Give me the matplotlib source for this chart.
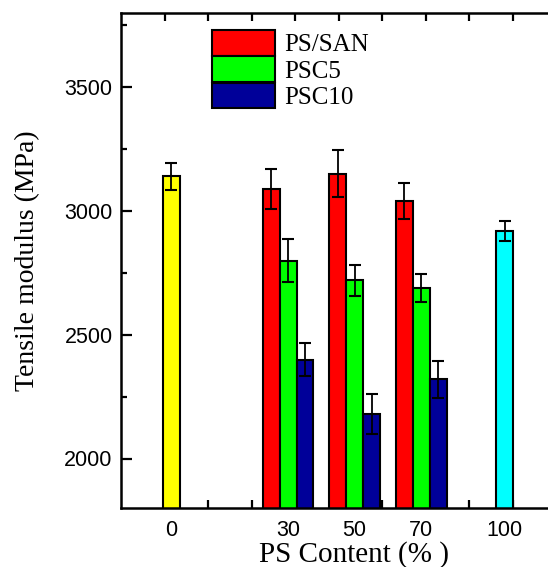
import matplotlib.pyplot as plt
import numpy as np

# PS content groups and where they sit on the (unitless) x axis
groups = ['0', '30', '50', '70', '100']
group_pos = [1.15, 3.84, 5.37, 6.90, 8.82]

# pure polymers
pure_labels = ['0', '100']
pure_vals = [3140, 2920]
pure_err = [55, 40]
pure_colors = ['#ffff00', '#00ffff']

# blends at 30 / 50 / 70 % PS
series = ['PS/SAN', 'PSC5', 'PSC10']
series_colors = ['#ff0000', '#00ff00', '#000099']
blend_vals = {
    'PS/SAN': [3090, 3150, 3040],
    'PSC5': [2800, 2720, 2690],
    'PSC10': [2400, 2180, 2320],
}
blend_err = {
    'PS/SAN': [80, 95, 72],
    'PSC5': [88, 62, 57],
    'PSC10': [65, 82, 75],
}

w = 0.39
err_kw = dict(ecolor='black', elinewidth=1.3, capsize=4, capthick=1.5)

fig = plt.figure(figsize=(5.48, 5.67), dpi=100)
ax = fig.add_axes([121/548, 59/567, 435/548, 495/567])

# pure PS and pure SAN
for lab, v, e, c in zip(pure_labels, pure_vals, pure_err, pure_colors):
    x = group_pos[groups.index(lab)]
    ax.bar(x, v, w, color=c, edgecolor='black', linewidth=1.5,
           yerr=e, error_kw=err_kw, zorder=2)

blend_x = np.array([group_pos[groups.index(g)] for g in ['30', '50', '70']])
for i, s in enumerate(series):
    ax.bar(blend_x + (i - 1) * w, blend_vals[s], w, color=series_colors[i],
           edgecolor='black', linewidth=1.5, yerr=blend_err[s],
           error_kw=err_kw, label=s, zorder=2)

ax.set_yticks([2000, 2500, 3000, 3500])
ax.set_yticks(np.arange(2250, 3800, 250), minor=True)
ax.set_xticks(group_pos, groups)
ax.set_xticks(np.arange(1, 10), minor=True)
ax.set_ylim(1800, 3800)
ax.set_xlim(0, 10)

ax.tick_params(axis='y', which='major', direction='in', length=8, width=1.6,
               labelsize=15.5, pad=6)
ax.tick_params(axis='y', which='minor', direction='in', length=4, width=1.6)
ax.tick_params(axis='x', which='major', length=0, labelsize=15.5, pad=9)
ax.tick_params(axis='x', which='minor', direction='in', length=6, width=1.6,
               top=True)
for lab in ax.get_xticklabels() + ax.get_yticklabels():
    lab.set_family('Liberation Sans')

for sp in ['left', 'bottom', 'top']:
    ax.spines[sp].set_linewidth(1.8)
ax.spines['right'].set_visible(False)

ax.set_ylabel('Tensile modulus (MPa)', family='Liberation Serif', fontsize=20)
ax.yaxis.set_label_coords(-81/435, 0.5)
ax.set_xlabel('PS Content (% )', family='Liberation Serif', fontsize=21)
ax.xaxis.set_label_coords((354-121)/435, -33/495)

leg = ax.legend(loc='upper left', bbox_to_anchor=((212-121)/435, (508-30)/495),
                frameon=False, borderpad=0, borderaxespad=0, labelspacing=0,
                handlelength=2.5, handleheight=1.2, handletextpad=0.4,
                prop=dict(family='Liberation Serif', size=18))

fig.savefig('out.png', dpi=100)
